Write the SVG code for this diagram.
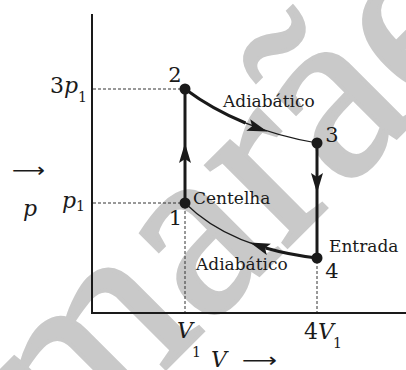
<svg xmlns="http://www.w3.org/2000/svg" xmlns:xlink="http://www.w3.org/1999/xlink" width="406" height="370" viewBox="0 0 406 370">
<style>
.wm{font-family:"Liberation Serif",serif;font-size:250px;fill:#c9c9c9;stroke:#c9c9c9;stroke-width:4}
.lbl{font-family:"DejaVu Serif",serif;font-size:17px;fill:#1a1a1a}
.num{font-family:"DejaVu Serif",serif;font-size:21px;fill:#1a1a1a;text-anchor:middle}
.math{font-family:"DejaVu Serif",serif;font-size:22px;fill:#1a1a1a}
.it{font-style:italic}
.sub{font-size:14px;font-style:normal}
.arr{font-family:"DejaVu Sans",sans-serif;font-size:20px;fill:#1a1a1a}
.axis{stroke:#1a1a1a;stroke-width:2;fill:none}
.dash{stroke:#333;stroke-width:1;stroke-dasharray:3 2;fill:none}
.thick{stroke:#1a1a1a;stroke-width:3;fill:none}
.thin{stroke:#1a1a1a;stroke-width:1.2;fill:none}
.dot{fill:#1a1a1a}
</style>
<defs>
<path id="ah" d="M0,0 L-20,-6 L-16,0 L-20,6 Z" fill="#1a1a1a"/>
</defs>
<text class="wm" transform="translate(68,466) rotate(-45)">marãe</text>
<g id="axes">
<path class="axis" d="M92,14 V313 H406"/>
<text class="arr" x="12" y="177" textLength="33" lengthAdjust="spacingAndGlyphs">⟶</text>
<text class="math it" x="23" y="216">p</text>
<text class="math" x="211" y="367"><tspan class="it">V</tspan></text>
<text class="arr" x="242" y="367" textLength="35" lengthAdjust="spacingAndGlyphs">⟶</text>
<text class="math" x="50" y="93">3<tspan class="it">p</tspan><tspan class="sub" dy="9">1</tspan></text>
<text class="math" x="62" y="208"><tspan class="it">p</tspan><tspan class="sub" dy="3">1</tspan></text>
<text class="math" x="177" y="338"><tspan class="it">V</tspan><tspan class="sub" dx="-1" dy="19">1</tspan></text>
<text class="math" x="304" y="339">4<tspan class="it">V</tspan><tspan class="sub" dx="-1" dy="9">1</tspan></text>
</g>
<g id="connectors">
<path class="dash" d="M93,89 H183 M93,203 H183 M185,206 V312 M317,261 V312"/>
<path class="thick" d="M185,203 V89"/>
<use xlink:href="#ah" transform="translate(185,143) rotate(-90)"/>
<path class="thick" d="M317,143 V258"/>
<use xlink:href="#ah" transform="translate(317,193) rotate(90)"/>
<path class="thin" d="M185,89 Q240,130 317,143"/>
<path class="thick" d="M185,89 Q212.5,109.5 245.5,123"/>
<use xlink:href="#ah" transform="translate(267.2,131.5) rotate(19)"/>
<path class="thin" d="M317,258 Q230,248 185,203"/>
<path class="thick" d="M317,258 Q289.2,254.8 265.6,248"/>
<use xlink:href="#ah" transform="translate(250,242.5) rotate(200)"/>
</g>
<g id="node1"><circle class="dot" cx="185" cy="203" r="5.5"/><text class="num" x="175.5" y="225">1</text><text class="lbl" x="193" y="204">Centelha</text></g>
<g id="node2"><circle class="dot" cx="185" cy="89" r="5.5"/><text class="num" x="175" y="82">2</text></g>
<g id="node3"><circle class="dot" cx="317" cy="143" r="5.5"/><text class="num" x="332" y="142">3</text></g>
<g id="node4"><circle class="dot" cx="317" cy="258" r="5.5"/><text class="num" x="332" y="278">4</text><text class="lbl" x="329" y="252">Entrada</text></g>
<g id="labels">
<text class="lbl" x="223" y="107">Adiabático</text>
<text class="lbl" x="196" y="270">Adiabático</text>
</g>
</svg>
